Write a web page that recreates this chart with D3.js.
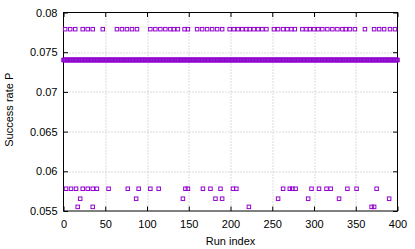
<!DOCTYPE html>
<html lang="en">
<head>
<meta charset="utf-8">
<title>Success rate per run</title>
<style>
body { margin: 0; background: #fff; }
svg text { font-family: "Liberation Sans", Arial, sans-serif; font-size: 11px; fill: #000; }
.grid line { stroke: #b8b8b8; stroke-width: 1; stroke-dasharray: 1,2; }
.axis path { display: none; }
.axis line { stroke: #000; }
</style>
</head>
<body>
<div id="chartID"></div>
<script src="https://d3js.org/d3.v7.min.js"></script>
<script>
// run indices and the value most runs sit at
var runIndex = d3.range(0, 401);
var bandValue = 0.07402;

// runs that landed off the main band
var highIdx = [2, 8, 14, 23, 29, 35, 47, 64, 70, 76, 82, 88, 104, 110, 116, 122, 128, 132, 137, 145, 149,
  160, 166, 172, 178, 184, 190, 199, 204, 209, 214, 219, 223, 228, 233, 238, 243, 252, 257, 263, 268,
  273, 277, 286, 291, 295, 300, 305, 310, 316, 322, 328, 334, 338, 343, 349, 361, 372, 378, 384, 391, 397];
var highVal = 0.0779;

var lowIdx = [3, 9, 15, 23, 29, 35, 40, 54, 77, 90, 104, 114, 146, 149, 167, 176, 188, 203, 207,
  263, 271, 274, 278, 297, 306, 315, 320, 340, 351, 375];
var lowVal = 0.0578;

var lowerIdx = [20, 87, 143, 182, 190, 257, 293, 330, 390];
var lowerVal = 0.05655;

var lowestIdx = [17, 35, 222, 369, 372];
var lowestVal = 0.05552;

var xTicks = [0, 50, 100, 150, 200, 250, 300, 350, 400];
var yTicks = [0.055, 0.06, 0.065, 0.07, 0.075, 0.08];
var yTickLabels = ["0.055", "0.06", "0.065", "0.07", "0.075", "0.08"];

var svg = d3.select("#chartID").append("svg").attr("width", 415).attr("height", 249);
var margin = { top: 12.5, right: 17.5, bottom: 38, left: 63.5 };
var width = 415 - margin.left - margin.right;
var height = 249 - margin.top - margin.bottom;
var g = svg.append("g").attr("transform", "translate(" + margin.left + "," + margin.top + ")");

var x = d3.scaleLinear().domain([0, 400]).range([0, width]);
var y = d3.scaleLinear().domain([0.055, 0.08]).range([height, 0]);

// dotted grid
var grid = g.append("g").attr("class", "grid");
grid.selectAll(".gx").data(xTicks.slice(1, -1)).enter().append("line")
    .attr("x1", function(d) { return Math.round(x(d)) + 0.5; })
    .attr("x2", function(d) { return Math.round(x(d)) + 0.5; })
    .attr("y1", 0).attr("y2", height);
grid.selectAll(".gy").data(yTicks.slice(1, -1)).enter().append("line")
    .attr("y1", function(d) { return Math.round(y(d)) + 0.5; })
    .attr("y2", function(d) { return Math.round(y(d)) + 0.5; })
    .attr("x1", 0).attr("x2", width);

// axes, ticks pointing inward
g.append("g").attr("class", "axis").attr("transform", "translate(0," + height + ")")
    .call(d3.axisBottom(x).tickValues(xTicks).tickSizeInner(-4.5).tickSizeOuter(0).tickPadding(9));
g.append("g").attr("class", "axis")
    .call(d3.axisTop(x).tickValues(xTicks).tickSizeInner(-4.5).tickSizeOuter(0).tickFormat(""));
g.append("g").attr("class", "axis")
    .call(d3.axisLeft(y).tickValues(yTicks).tickSizeInner(-4.5).tickSizeOuter(0).tickPadding(6)
      .tickFormat(function(d, i) { return yTickLabels[i]; }));
g.append("g").attr("class", "axis").attr("transform", "translate(" + width + ",0)")
    .call(d3.axisRight(y).tickValues(yTicks).tickSizeInner(-4.5).tickSizeOuter(0).tickFormat(""));

// border
g.append("rect").attr("x", 0).attr("y", 0).attr("width", width).attr("height", height)
    .attr("fill", "none").attr("stroke", "#000").attr("stroke-width", 1);

// points
var pts = [];
runIndex.forEach(function(i) { pts.push({ i: i, v: bandValue }); });
highIdx.forEach(function(i) { pts.push({ i: i, v: highVal }); });
lowIdx.forEach(function(i) { pts.push({ i: i, v: lowVal }); });
lowerIdx.forEach(function(i) { pts.push({ i: i, v: lowerVal }); });
lowestIdx.forEach(function(i) { pts.push({ i: i, v: lowestVal }); });

var s = 3.5;
g.selectAll(".pt").data(pts).enter().append("rect")
    .attr("class", "pt")
    .attr("x", function(d) { return x(d.i) - s / 2; })
    .attr("y", function(d) { return y(d.v) - s / 2; })
    .attr("width", s).attr("height", s)
    .attr("fill", "none").attr("stroke", "#9400d3").attr("stroke-width", 1);

// second series sitting on the band
g.append("line")
    .attr("x1", x(0)).attr("x2", x(400))
    .attr("y1", y(bandValue)).attr("y2", y(bandValue))
    .attr("stroke", "#5f9f8f").attr("stroke-width", 1).attr("stroke-dasharray", "1,2").attr("opacity", 0.75);

// axis titles
svg.append("text").attr("x", margin.left + width / 2).attr("y", 245)
    .attr("text-anchor", "middle").text("Run index");
svg.append("text").attr("transform", "translate(13," + (margin.top + height / 2 - 2) + ") rotate(-90)")
    .attr("text-anchor", "middle").text("Success rate P");
</script>
</body>
</html>
